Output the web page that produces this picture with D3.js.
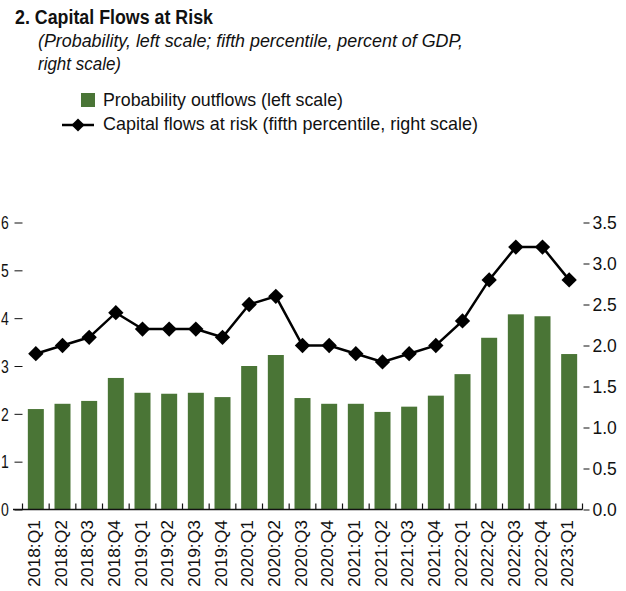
<!DOCTYPE html>
<html><head><meta charset="utf-8">
<script src="https://cdn.jsdelivr.net/npm/d3@7"></script>
<style>
body{margin:0;background:#fff;}
svg text{font-family:"Liberation Sans",Arial,sans-serif;fill:#111;}
</style></head>
<body><svg id="c" width="626" height="591"></svg>
<script>
const categories = ["2018:Q1","2018:Q2","2018:Q3","2018:Q4","2019:Q1","2019:Q2","2019:Q3","2019:Q4","2020:Q1","2020:Q2","2020:Q3","2020:Q4","2021:Q1","2021:Q2","2021:Q3","2021:Q4","2022:Q1","2022:Q2","2022:Q3","2022:Q4","2023:Q1"];
const probabilityOutflows = [2.10,2.21,2.27,2.75,2.44,2.42,2.44,2.35,3.00,3.23,2.33,2.21,2.21,2.04,2.15,2.38,2.83,3.59,4.08,4.04,3.25];
const capitalFlowsAtRisk = [1.9,2.0,2.1,2.4,2.2,2.2,2.2,2.1,2.5,2.6,2.0,2.0,1.9,1.8,1.9,2.0,2.3,2.8,3.2,3.2,2.8];
const leftTicks = [0,1,2,3,4,5,6];
const rightTicks = [0,0.5,1,1.5,2,2.5,3,3.5];

const svg = d3.select("#c");
const x0 = 22.5, x1 = 582.5, yBase = 509.5, yTop = 222.5;
const x = d3.scaleBand().domain(categories).range([x0,x1]).paddingInner(0.4).paddingOuter(0.2);
const yL = d3.scaleLinear().domain([0,6]).range([yBase,yTop]);
const yR = d3.scaleLinear().domain([0,3.5]).range([yBase,yTop]);
const green = "#4a7536";

function fit(sel, w){ sel.attr("textLength", w).attr("lengthAdjust","spacingAndGlyphs"); return sel; }

// title
fit(svg.append("text").attr("x",15).attr("y",24).attr("font-size",19.5).attr("font-weight","bold").text("2. Capital Flows at Risk"),198);
fit(svg.append("text").attr("x",38).attr("y",47).attr("font-size",17.5).attr("font-style","italic").text("(Probability, left scale; fifth percentile, percent of GDP,"),425);
fit(svg.append("text").attr("x",38).attr("y",70).attr("font-size",17.5).attr("font-style","italic").text("right scale)"),83);

// legend
svg.append("rect").attr("x",81).attr("y",93).attr("width",14).attr("height",14).attr("fill",green);
fit(svg.append("text").attr("x",103).attr("y",106).attr("font-size",19).text("Probability outflows (left scale)"),240);
svg.append("line").attr("x1",62).attr("x2",94).attr("y1",125).attr("y2",125).attr("stroke","#000").attr("stroke-width",2.5);
svg.append("path").attr("d",d3.symbol(d3.symbolDiamond2,110)()).attr("transform","translate(78,125)").attr("fill","#000");
fit(svg.append("text").attr("x",103).attr("y",129.5).attr("font-size",19).text("Capital flows at risk (fifth percentile, right scale)"),375);

// bars
svg.append("g").selectAll("rect").data(categories).join("rect")
  .attr("x",d=>x(d)).attr("width",x.bandwidth())
  .attr("y",(d,i)=>yL(probabilityOutflows[i])).attr("height",(d,i)=>yBase-yL(probabilityOutflows[i]))
  .attr("fill",green);

// left axis
const gl = svg.append("g").attr("transform",`translate(${x0},0)`)
  .call(d3.axisLeft(yL).tickValues(leftTicks).tickSize(8).tickPadding(6).tickFormat(d3.format("d")));
gl.select(".domain").remove();
gl.selectAll("text").attr("font-size",17.5).attr("dy","0.36em")
  .attr("text-anchor","start").attr("x",0)
  .attr("transform",`translate(${-x0+1},0) scale(0.8,1)`);
gl.selectAll("line").attr("stroke","#111");

// right axis
const gr = svg.append("g").attr("transform",`translate(${x1+1},0)`)
  .call(d3.axisRight(yR).tickValues(rightTicks).tickSize(6).tickPadding(3).tickFormat(d3.format(".1f")));
gr.select(".domain").remove();
gr.selectAll("text").attr("font-size",17.5).attr("dy","0.36em");
gr.selectAll("line").attr("stroke","#111");

// baseline
svg.append("line").attr("x1",13).attr("x2",x1).attr("y1",yBase).attr("y2",yBase).attr("stroke","#111").attr("stroke-width",1.5);
// x ticks at band boundaries
const bounds = categories.map(c=>x(c)-x.step()*x.paddingInner()/2).concat([x1]);
svg.append("g").selectAll("line").data(bounds).join("line")
  .attr("x1",d=>d).attr("x2",d=>d).attr("y1",yBase).attr("y2",yBase-6).attr("stroke","#111").attr("stroke-width",1.2);

// x labels
fit(svg.append("g").selectAll("text").data(categories).join("text")
  .attr("transform",d=>`translate(${x(d)+x.bandwidth()/2+4},520) rotate(-90)`)
  .attr("text-anchor","end").attr("font-size",16).text(d=>d), 67);

// line
const line = d3.line().x((d,i)=>x(categories[i])+x.bandwidth()/2).y(d=>yR(d));
svg.append("path").datum(capitalFlowsAtRisk).attr("d",line).attr("fill","none").attr("stroke","#000").attr("stroke-width",2.5);
svg.append("g").selectAll("path").data(capitalFlowsAtRisk).join("path")
  .attr("d",d3.symbol(d3.symbolDiamond2,150)())
  .attr("transform",(d,i)=>`translate(${x(categories[i])+x.bandwidth()/2},${yR(d)})`)
  .attr("fill","#000");
</script></body></html>
